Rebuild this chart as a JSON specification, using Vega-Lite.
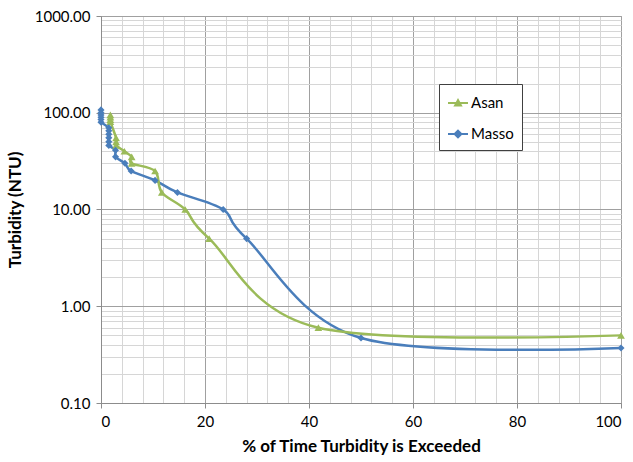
{
  "$schema": "https://vega.github.io/schema/vega-lite/v6.json",
  "width": 520,
  "height": 387,
  "autosize": {"type": "none"},
  "padding": {"left": 101, "top": 16, "right": 12, "bottom": 59},
  "background": "white",
  "config": {
    "view": {"stroke": "#9a9a9a", "strokeWidth": 1},
    "font": "Lato",
    "axis": {"labelFont": "Lato", "titleFont": "Lato", "labelColor": "#000", "titleColor": "#000"}
  },
  "data": {
    "values": [
      {"series": "Masso", "i": 1, "pct": 0, "ntu": 107},
      {"series": "Masso", "i": 2, "pct": 0, "ntu": 100},
      {"series": "Masso", "i": 3, "pct": 0, "ntu": 95},
      {"series": "Masso", "i": 4, "pct": 0, "ntu": 90},
      {"series": "Masso", "i": 5, "pct": 0, "ntu": 85},
      {"series": "Masso", "i": 6, "pct": 0, "ntu": 80},
      {"series": "Masso", "i": 7, "pct": 1.5, "ntu": 70},
      {"series": "Masso", "i": 8, "pct": 1.5, "ntu": 65},
      {"series": "Masso", "i": 9, "pct": 1.5, "ntu": 60},
      {"series": "Masso", "i": 10, "pct": 1.5, "ntu": 55},
      {"series": "Masso", "i": 11, "pct": 1.5, "ntu": 50},
      {"series": "Masso", "i": 12, "pct": 1.5, "ntu": 46},
      {"series": "Masso", "i": 13, "pct": 2.8, "ntu": 41},
      {"series": "Masso", "i": 14, "pct": 2.8, "ntu": 35},
      {"series": "Masso", "i": 15, "pct": 4.6, "ntu": 30},
      {"series": "Masso", "i": 16, "pct": 5.8, "ntu": 25},
      {"series": "Masso", "i": 17, "pct": 10.4, "ntu": 20},
      {"series": "Masso", "i": 18, "pct": 14.7, "ntu": 15},
      {"series": "Masso", "i": 19, "pct": 23.5, "ntu": 10},
      {"series": "Masso", "i": 20, "pct": 28, "ntu": 5},
      {"series": "Masso", "i": 21, "pct": 50, "ntu": 0.47},
      {"series": "Masso", "i": 22, "pct": 100, "ntu": 0.37},
      {"series": "Asan", "i": 1, "pct": 1.8, "ntu": 95},
      {"series": "Asan", "i": 2, "pct": 1.8, "ntu": 90},
      {"series": "Asan", "i": 3, "pct": 1.8, "ntu": 85},
      {"series": "Asan", "i": 4, "pct": 1.8, "ntu": 81},
      {"series": "Asan", "i": 5, "pct": 2.9, "ntu": 55},
      {"series": "Asan", "i": 6, "pct": 2.9, "ntu": 50},
      {"series": "Asan", "i": 7, "pct": 2.9, "ntu": 46},
      {"series": "Asan", "i": 8, "pct": 4.5, "ntu": 40},
      {"series": "Asan", "i": 9, "pct": 5.9, "ntu": 35},
      {"series": "Asan", "i": 10, "pct": 5.9, "ntu": 30},
      {"series": "Asan", "i": 11, "pct": 10.4, "ntu": 25},
      {"series": "Asan", "i": 12, "pct": 11.7, "ntu": 15},
      {"series": "Asan", "i": 13, "pct": 16.2, "ntu": 10},
      {"series": "Asan", "i": 14, "pct": 20.8, "ntu": 5},
      {"series": "Asan", "i": 15, "pct": 41.8, "ntu": 0.6},
      {"series": "Asan", "i": 16, "pct": 100, "ntu": 0.5}
    ]
  },
  "encoding": {
    "x": {
      "field": "pct", "type": "quantitative",
      "scale": {"domain": [0, 100], "nice": false, "zero": false},
      "axis": {
        "title": "% of Time Turbidity is Exceeded",
        "titleFontSize": 17, "titleFontWeight": "bold", "titlePadding": 9,
        "values": [0,4,8,12,16,20,24,28,32,36,40,44,48,52,56,60,64,68,72,76,80,84,88,92,96,100],
        "labelExpr": "datum.value % 20 === 0 ? datum.label : ''",
        "labelFontSize": 15, "labelPadding": 6, "labelOverlap": false, "labelBound": false,
        "domainColor": "#8c8c8c",
        "tickSize": 5,
        "tickColor": {"condition": {"test": "datum.value % 20 === 0", "value": "#8c8c8c"}, "value": "transparent"},
        "grid": true,
        "gridColor": {"condition": {"test": "datum.value % 20 === 0", "value": "#a0a0a0"}, "value": "#d6d6d6"}
      }
    },
    "y": {
      "field": "ntu", "type": "quantitative",
      "scale": {"type": "log", "domain": [0.1, 1000], "nice": false},
      "axis": {
        "title": "Turbidity (NTU)",
        "titleFontSize": 17, "titleFontWeight": "bold", "titlePadding": 10,
        "values": [0.1,0.2,0.3,0.4,0.5,0.6,0.7,0.8,0.9,1,2,3,4,5,6,7,8,9,10,20,30,40,50,60,70,80,90,100,200,300,400,500,600,700,800,900,1000],
        "labelExpr": "indexof([0.1,1,10,100,1000], datum.value) >= 0 ? format(datum.value, '.2f') : ''",
        "labelFontSize": 15, "labelPadding": 6, "labelOverlap": false, "labelBound": false,
        "domainColor": "#8c8c8c",
        "tickSize": 5,
        "tickColor": {"condition": {"test": "indexof([0.1,1,10,100,1000], datum.value) >= 0", "value": "#8c8c8c"}, "value": "transparent"},
        "grid": true,
        "gridColor": {"condition": {"test": "indexof([0.1,1,10,100,1000], datum.value) >= 0", "value": "#a0a0a0"}, "value": "#d6d6d6"}
      }
    }
  },
  "layer": [
    {
      "mark": {"type": "line", "interpolate": "cardinal", "strokeWidth": 2.5},
      "encoding": {
        "order": {"field": "i", "type": "quantitative"},
        "color": {
          "field": "series", "type": "nominal",
          "scale": {"domain": ["Asan", "Masso"], "range": ["#9BBB59", "#4A7EBB"]},
          "legend": {
            "title": null,
            "orient": "none",
            "legendX": 338,
            "legendY": 68,
            "direction": "vertical",
            "fillColor": "white",
            "strokeColor": "#404040",
            "padding": 8,
            "rowPadding": 12,
            "labelFontSize": 15,
            "labelFont": "Lato",
            "labelColor": "#000",
            "labelOffset": 2,
            "symbolSize": 400,
            "encode": {
              "symbols": {
                "update": {
                  "shape": {"signal": "datum.value === 'Asan' ? 'M-1,0H1M-0.3,0.26L0,-0.3L0.3,0.26Z' : 'M-1,0H1M0,-0.34L0.34,0L0,0.34L-0.34,0Z'"},
                  "fill": {"signal": "datum.value === 'Asan' ? '#9BBB59' : '#4A7EBB'"},
                  "stroke": {"signal": "datum.value === 'Asan' ? '#9BBB59' : '#4A7EBB'"},
                  "strokeWidth": {"value": 2},
                  "opacity": {"value": 1},
                  "fillOpacity": {"value": 1},
                  "strokeOpacity": {"value": 1}
                }
              }
            }
          }
        }
      }
    },
    {
      "transform": [{"filter": "datum.series === 'Asan'"}],
      "mark": {"type": "point", "filled": true, "opacity": 1, "size": 60, "shape": "triangle-up", "color": "#9BBB59"}
    },
    {
      "transform": [{"filter": "datum.series === 'Masso'"}],
      "mark": {"type": "point", "filled": true, "opacity": 1, "size": 50, "shape": "diamond", "color": "#4A7EBB"}
    }
  ]
}
